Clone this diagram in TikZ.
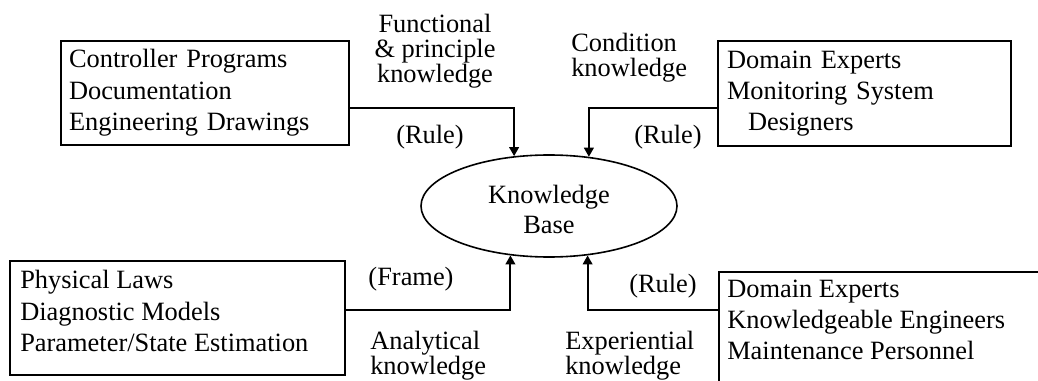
\documentclass[tikz,border=0pt]{standalone}
\usepackage{fontspec}
\setmainfont{Liberation Serif}
\usetikzlibrary{shapes.geometric,arrows.meta}
\begin{document}
\begin{tikzpicture}[x=0.75pt,y=-0.75pt,
  box/.style={draw, line width=1.5pt, rectangle, inner ysep=0pt},
  boxfont/.style={font=\fontsize{19.8}{23.5}\selectfont},
  lbl/.style={font=\fontsize{19.8}{18.75}\selectfont, inner sep=0pt},
  arr/.style={line width=1.5pt, -{Triangle[length=6.75pt,width=7.2pt]}},
]
\useasboundingbox (0,0) rectangle (1038,381);
\clip (0,0) rectangle (1038,381);

% knowledge base
\node[ellipse, draw, line width=1.2pt, minimum width=192pt, minimum height=76.5pt,
      inner sep=0pt, align=center, font=\fontsize{19.8}{22.5}\selectfont] (kb) at (549,206) {\rule{0pt}{19.5pt}Knowledge\\Base};

% source boxes
\node[box, boxfont, text width=204pt, inner xsep=6pt, minimum height=78pt, align=left] (box1) at (205,93)
  {Controller Programs\\Documentation\\Engineering Drawings};
\node[box, boxfont, text width=206.25pt, inner xsep=6.75pt, minimum height=78.75pt, align=left] (box2) at (864.5,93.5)
  {Domain Experts\\Monitoring System\\\hspace*{15.75pt}Designers};
\node[box, minimum width=251.25pt, minimum height=85.5pt] (box3) at (177.5,318) {};
\node[boxfont, align=left, inner sep=0pt, anchor=west] (box3text) at (20,311)
  {Physical Laws\\Diagnostic Models\\Parameter/State Estimation};
\node[box, anchor=north west, minimum width=300pt, minimum height=100pt] (box4) at (718,271) {};
\node[boxfont, align=left, inner sep=0pt, anchor=west] (box4text) at (727,320)
  {Domain Experts\\Knowledgeable Engineers\\Maintenance Personnel};

% labels
\node[lbl, align=center] (func) at (435,51) {Functional\\\& principle\\knowledge};
\node[lbl] (rule1) at (430,137) {(Rule)};
\node[lbl, align=left, anchor=west] (cond) at (571,58) {Condition\\knowledge};
\node[lbl] (rule2) at (668,137) {(Rule)};
\node[lbl] (frame) at (411,279) {(Frame)};
\node[lbl, align=left, anchor=west] (anal) at (370,356) {Analytical\\knowledge};
\node[lbl] (rule4) at (663,286) {(Rule)};
\node[lbl, align=left, anchor=west] (exp) at (565,356) {Experiential\\knowledge};

% connectors
\coordinate (ya) at (0,108);
\coordinate (yb) at (0,310);
\draw[arr] (box1.east |- ya) -| (kb.125.5);
\draw[arr] (box2.west |- ya) -| (kb.51.3);
\draw[arr] (box3.east |- yb) -| (kb.-128);
\draw[arr] (box4.west |- yb) -| (kb.-52);
\end{tikzpicture}
\end{document}
